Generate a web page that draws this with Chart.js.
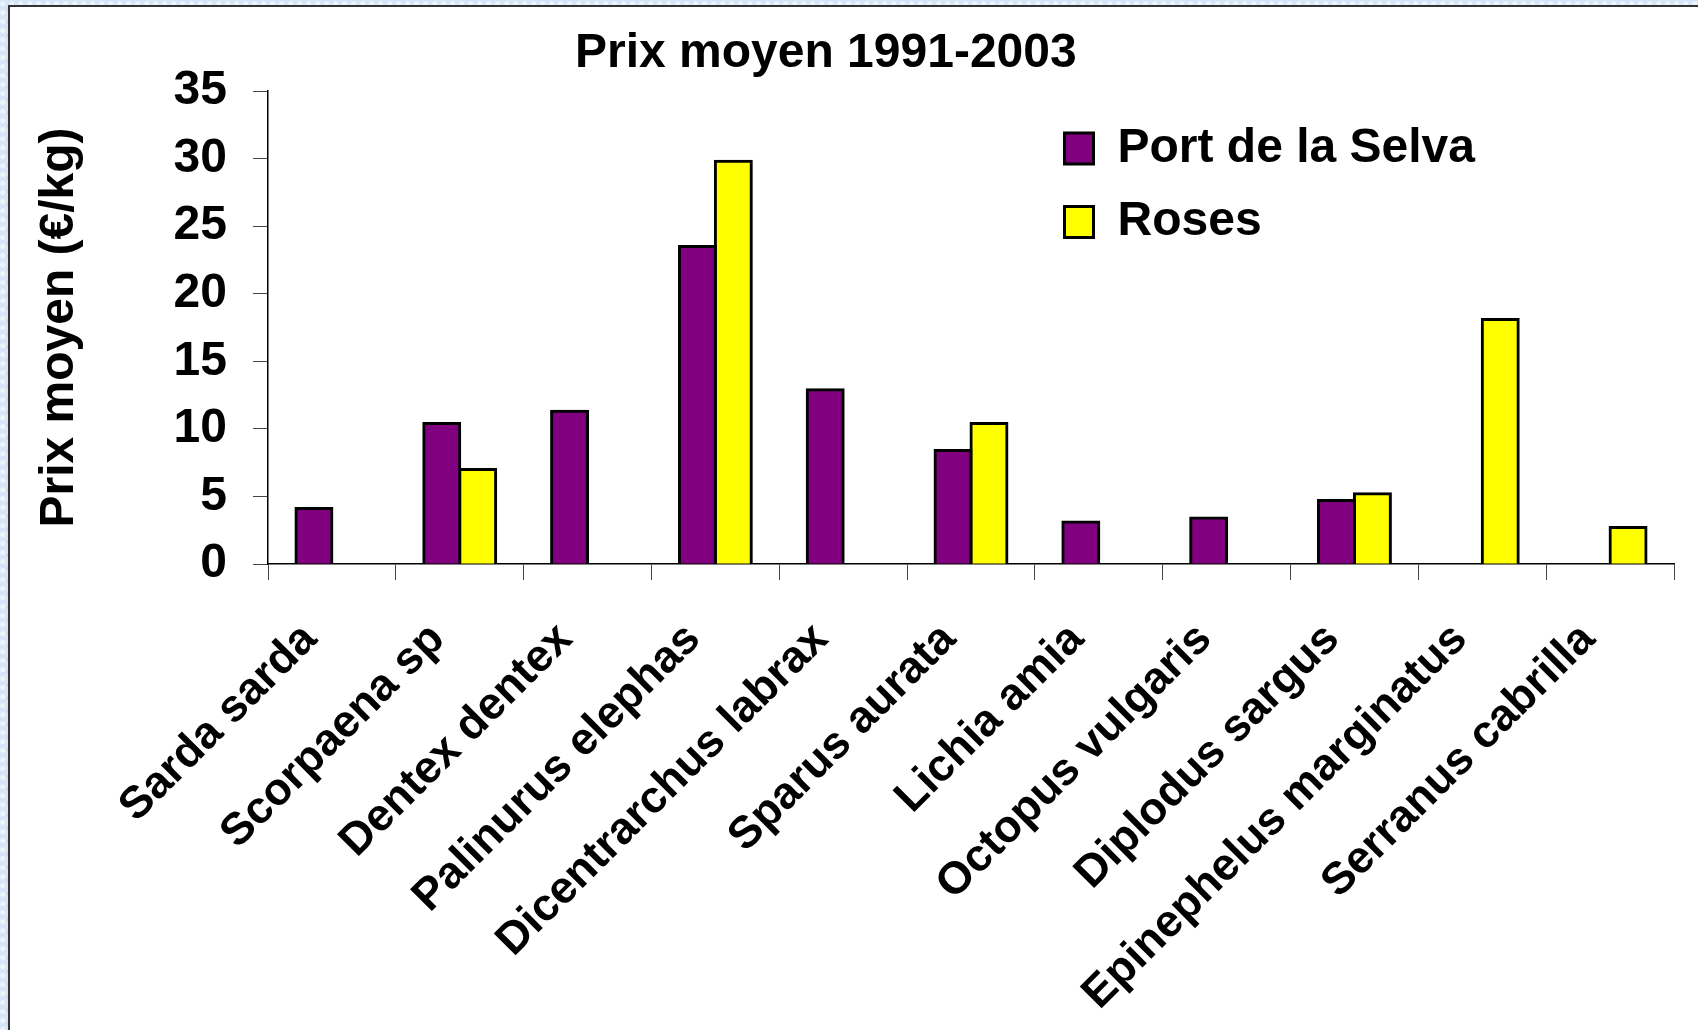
<!DOCTYPE html>
<html>
<head>
<meta charset="utf-8">
<script src="https://cdn.jsdelivr.net/npm/chart.js@4.4.0/dist/chart.umd.min.js"></script>
<style>
  html, body { margin: 0; padding: 0; }
  body {
    width: 1698px; height: 1030px; overflow: hidden; position: relative;
    background-color: #d6e6f8;
    background-image:
      radial-gradient(circle at 30% 40%, rgba(255,255,255,0.55) 0 2px, transparent 3px),
      radial-gradient(circle at 70% 70%, rgba(170,200,240,0.5) 0 2px, transparent 3px);
    background-size: 9px 9px, 13px 13px;
  }
  #panel {
    position: absolute; left: 8px; top: 5px; right: -10px; bottom: -10px;
    background: #fff; border: 2px solid #333;
  }
  #wrap { position: absolute; left: 0; top: 0; width: 1698px; height: 1030px; }
</style>
</head>
<body>
<div id="panel"></div>
<div id="wrap"><canvas id="chart"></canvas></div>
<script>
// ── Data ────────────────────────────────────────────────────
const species = [
  'Sarda sarda', 'Scorpaena sp', 'Dentex dentex', 'Palinurus elephas',
  'Dicentrarchus labrax', 'Sparus aurata', 'Lichia amia', 'Octopus vulgaris',
  'Diplodus sargus', 'Epinephelus marginatus', 'Serranus cabrilla'
];
const portDeLaSelva = [4.1, 10.4, 11.3, 23.5, 12.9, 8.4, 3.1, 3.4, 4.7, null, null];
const roses         = [null, 7.0, null, 29.8, null, 10.4, null, null, 5.2, 18.1, 2.7];
const yTicks = [0, 5, 10, 15, 20, 25, 30, 35];

const FONT = "'Liberation Sans', Arial, sans-serif";

// ── Legend placement inside the plot (Excel style) ──────────
const legendPlace = {
  id: 'legendPlace',
  afterLayout(chart) {
    const l = chart.legend;
    if (!l) return;
    l.left = 1039; l.top = 99; l.right = 1674; l.bottom = 564;
    l.width = l.right - l.left; l.height = l.bottom - l.top;
  },
};

const barStyle = {
  borderColor: '#000',
  borderWidth: 3,
  inflateAmount: 1.5,     // outline centred on the edge, like Excel
  categoryPercentage: 0.5625,
  barPercentage: 1,
};

new Chart(document.getElementById('chart'), {
  type: 'bar',
  data: {
    labels: species,
    datasets: [
      { label: 'Port de la Selva', data: portDeLaSelva, backgroundColor: '#800080', ...barStyle },
      { label: 'Roses', data: roses, backgroundColor: '#ffff00', ...barStyle },
    ],
  },
  options: {
    responsive: true,
    maintainAspectRatio: false,
    animation: false,
    layout: { padding: { left: 31, right: 24, top: 0, bottom: 0 } },
    plugins: {
      title: {
        display: true,
        text: 'Prix moyen 1991-2003\u00a0\u00a0\u00a0\u00a0',
        color: '#000',
        font: { family: FONT, size: 48, weight: 'bold' },
        padding: { top: 25, bottom: 8.4 },
      },
      legend: {
        display: true,
        position: 'chartArea',
        align: 'start',
        labels: {
          color: '#000',
          font: { family: FONT, size: 48, weight: 'bold' },
          boxWidth: 29,
          boxHeight: 31,
          padding: 25.5,
        },
      },
      tooltip: { enabled: false },
    },
    scales: {
      x: {
        grid: { display: true, drawOnChartArea: false, drawTicks: true, tickLength: 16, color: '#444', offset: true },
        border: { display: true, color: '#000', width: 1.5 },
        ticks: {
          autoSkip: false, maxRotation: 45, minRotation: 45,
          color: '#000', padding: 33, labelOffset: -22,
          font: { family: FONT, size: 45, weight: 'bold' },
        },
        afterFit: s => { s.height = 466; },
      },
      y: {
        min: 0, max: 35,
        afterBuildTicks: s => { s.ticks = yTicks.map(v => ({ value: v })); },
        grid: { display: true, drawOnChartArea: false, drawTicks: true, tickLength: 15, color: '#444' },
        border: { display: true, color: '#000', width: 1.5 },
        ticks: {
          color: '#000', padding: 26,
          font: { family: FONT, size: 48, weight: 'bold' },
        },
        title: {
          display: true,
          text: 'Prix moyen (€/kg)',
          color: '#000',
          padding: 0,
          font: { family: FONT, size: 48, weight: 'bold' },
        },
        afterFit: s => { s.width = 237; },
      },
    },
  },
  plugins: [legendPlace],
});
</script>
</body>
</html>
